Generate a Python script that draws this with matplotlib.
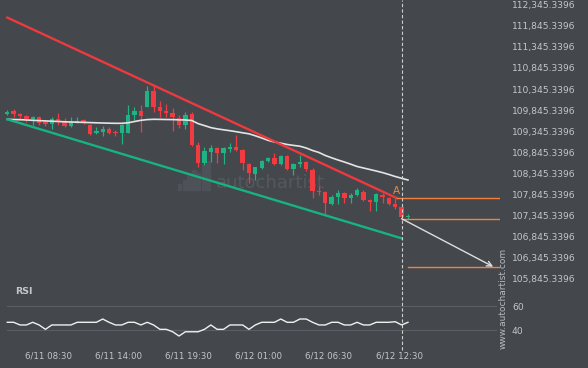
import matplotlib
matplotlib.use("Agg")
import matplotlib.pyplot as plt
from matplotlib.patches import Rectangle
import numpy as np

#---------------------------------------#
# CHART DATA (30 min candles, 6/11 05:00 -> 6/12 13:00)
#---------------------------------------#
OPEN = [109746, 109824, 109753, 109706, 109634, 109682, 109556, 109509, 109634, 109594,
        109475, 109556, 109611, 109492, 109302, 109326, 109397, 109333, 109309, 109309,
        109729, 109831, 109926, 110298, 109926, 109831, 109784, 109651, 109492, 109746,
        109018, 108598, 108859, 108939, 108821, 108916, 108977, 108899, 108567, 108330,
        108479, 108645, 108702, 108567, 108757, 108441, 108567, 108622, 108425, 107926,
        107910, 107618, 107791, 107886, 107768, 107832, 107910, 107713, 107673, 107832,
        107768, 107618, 107540, 107303]
HIGH = [109848, 109879, 109777, 109729, 109706, 109706, 109611, 109689, 109777, 109658,
        109689, 109689, 109634, 109516, 109445, 109468, 109445, 109373, 109516, 109966,
        109912, 109966, 110417, 110441, 110073, 109983, 109888, 109729, 109807, 109800,
        109089, 108977, 109018, 108963, 108970, 109058, 109255, 108923, 108584, 108503,
        108662, 108726, 108828, 108780, 108780, 108591, 108780, 108645, 108465, 108045,
        107926, 107832, 107950, 107903, 107872, 107991, 107950, 107730, 107886, 107872,
        107791, 107753, 107554, 107381]
LOW = [109729, 109689, 109634, 109570, 109492, 109492, 109468, 109390, 109492, 109445,
       109452, 109532, 109516, 109248, 109271, 109231, 109279, 109231, 109041, 109295,
       109611, 109333, 109912, 109800, 109689, 109689, 109350, 109421, 109397, 108994,
       108503, 108543, 108622, 108584, 108567, 108859, 108887, 108425, 108109, 108187,
       108448, 108622, 108543, 108543, 108425, 108306, 108489, 108401, 107753, 107832,
       107357, 107594, 107618, 107635, 107649, 107808, 107697, 107452, 107452, 107649,
       107594, 107492, 107279, 107262]
CLOSE = [109807, 109760, 109706, 109634, 109682, 109532, 109516, 109627, 109594, 109475,
         109570, 109594, 109532, 109279, 109350, 109397, 109309, 109295, 109492, 109729,
         109831, 109706, 110298, 109926, 109831, 109770, 109675, 109492, 109736, 109018,
         108591, 108875, 108946, 108821, 108939, 108977, 108899, 108584, 108346, 108489,
         108645, 108702, 108567, 108757, 108441, 108567, 108622, 108437, 107915, 107896,
         107649, 107791, 107886, 107753, 107832, 107950, 107713, 107673, 107855, 107791,
         107618, 107540, 107317, 107334]
# moving average drawn over the candles
MA = [109627, 109622, 109618, 109611, 109603, 109596, 109589, 109582, 109575, 109568,
      109563, 109558, 109554, 109549, 109544, 109539, 109535, 109532, 109532, 109544,
      109575, 109603, 109620, 109627, 109625, 109622, 109620, 109615, 109611, 109599,
      109525, 109478, 109430, 109400, 109378, 109357, 109333, 109307, 109283, 109236,
      109184, 109129, 109089, 109060, 109030, 109008, 108989, 108946, 108887, 108840,
      108769, 108714, 108662, 108614, 108562, 108508, 108472, 108437, 108401, 108363,
      108318, 108270, 108228, 108187]
RSI = [46.6, 46.6, 44.4, 44.4, 46.6, 44.4, 40.8, 44.4, 44.4, 44.4,
       44.4, 46.6, 46.6, 46.6, 46.6, 49.3, 46.6, 44.4, 44.4, 46.6,
       46.6, 44.4, 46.6, 44.4, 40.8, 40.8, 38.8, 35.3, 38.8, 38.8,
       38.8, 40.8, 44.4, 40.8, 40.8, 44.4, 44.4, 44.4, 40.8, 44.4,
       46.6, 46.6, 46.6, 49.3, 46.6, 46.6, 49.3, 49.3, 46.6, 44.4,
       44.4, 46.6, 46.6, 44.4, 44.4, 46.6, 44.4, 44.4, 46.6, 46.6,
       46.6, 47.1, 44.4, 46.6]

# channel lines (bar index, price)
RESIST_BARS = [0, 61.2]
RESIST_PRICES = [112040, 107760]
SUPPORT_BARS = [0, 62]
SUPPORT_PRICES = [109627, 106804]
# breakout level "A", current level and the forecast target
LEVEL_A = 107753
LEVEL_NOW = 107262
LEVEL_TARGET = 106117
ARROW_BARS = [62, 76.4]
ARROW_PRICES = [107270, 106131]
SIGNAL_BAR = 62

TIME_TICKS = [6.5, 17.5, 28.5, 39.5, 50.5, 61.6]
TIME_LABELS = ["6/11 08:30", "6/11 14:00", "6/11 19:30", "6/12 01:00", "6/12 06:30", "6/12 12:30"]
PRICE_TICKS = [105845.3396 + 500 * k for k in range(14)]
RSI_TICKS = [40, 60]
#---------------------------------------#

#---------------------------------------#
# STYLE
#---------------------------------------#
BG = "#44474c"
UP = "#1fb383"
DOWN = "#f23b40"
TXT = "#c3c6ca"
ORANGE = "#f5803c"
#---------------------------------------#


"""
draw the candles, the channel and the forecast on the price axes
"""
def draw_price(ax):
    x = np.arange(len(OPEN))
    o = np.array(OPEN)
    c = np.array(CLOSE)
    cols = [UP if cc >= oo else DOWN for oo, cc in zip(o, c)]
    ax.vlines(x, LOW, HIGH, colors=cols, lw=0.9, zorder=3)
    ax.bar(x, np.maximum(np.abs(c - o), 14), bottom=np.minimum(o, c), width=0.68,
           color=cols, zorder=4)

    ax.plot(x, MA, color="#e4e4e4", lw=1.2, zorder=5)
    ax.plot(RESIST_BARS, RESIST_PRICES, color="#ec3a3f", lw=1.7, zorder=6)
    ax.plot(SUPPORT_BARS, SUPPORT_PRICES, color="#17b381", lw=1.7, zorder=6)

    right = ax.get_xlim()[1]
    ax.plot([RESIST_BARS[1], right], [LEVEL_A, LEVEL_A], color=ORANGE, lw=1, zorder=6)
    ax.plot([SIGNAL_BAR, right], [LEVEL_NOW, LEVEL_NOW], color=ORANGE, lw=1, zorder=6)
    ax.plot([SIGNAL_BAR + 1, right], [LEVEL_TARGET, LEVEL_TARGET], color=ORANGE, lw=1, zorder=6)
    ax.text(RESIST_BARS[1], LEVEL_A + 60, "A", color="#e88a4a", fontsize=7.5,
            ha="center", va="bottom", zorder=7)
    ax.annotate("", xy=(ARROW_BARS[1], ARROW_PRICES[1]), xytext=(ARROW_BARS[0], ARROW_PRICES[0]),
                arrowprops=dict(arrowstyle="->", color="#dedede", lw=1, shrinkA=0, shrinkB=0,
                                mutation_scale=9), zorder=7)

    # faint watermark
    ax.text(0.54, 0.37, "autochartist", transform=ax.transAxes, fontsize=13,
            color="#55585e", ha="center", va="center", zorder=1)
    for k, h in enumerate([0.02, 0.035, 0.05, 0.07, 0.06, 0.085, 0.1]):
        ax.add_patch(Rectangle((0.356 + k * 0.0095, 0.345), 0.0068, h, transform=ax.transAxes,
                               color="#4e5157", zorder=1))


"""
draw the rsi line under the price panel
"""
def draw_rsi(ax):
    x = np.arange(len(RSI))
    for lvl in RSI_TICKS:
        ax.axhline(lvl, xmin=0.014, xmax=0.992, color="#5b5f65", lw=0.8, zorder=1)
    ax.plot(x, RSI, color="#f0f0f0", lw=1, zorder=3)


def main() -> None:
    fig = plt.figure(figsize=(5.88, 3.68), dpi=100, facecolor=BG)
    ax = fig.add_axes([0, 1 - 290 / 368, 500 / 588, 290 / 368], facecolor=BG)
    ax_rsi = fig.add_axes([0, 1 - 345 / 368, 500 / 588, 55 / 368], facecolor=BG, sharex=ax)

    ax.set_xlim(-1.148, 77.47)
    ax.set_ylim(105578, 112457)
    ax_rsi.set_ylim(27.9, 73.2)

    draw_price(ax)
    draw_rsi(ax_rsi)

    for a in (ax, ax_rsi):
        for s in a.spines.values():
            s.set_visible(False)
        a.yaxis.tick_right()
        a.tick_params(axis="y", length=0, pad=8.6, labelsize=6.6, labelcolor=TXT)
        a.axvline(SIGNAL_BAR, color="#cfcfcf", lw=0.8, dashes=(3, 2), zorder=8)
    ax_rsi.lines[-1].set_ydata([-5 / 55, 1])
    ax_rsi.lines[-1].set_clip_on(False)

    ax.set_yticks(PRICE_TICKS)
    ax.set_yticklabels([f"{p:,.4f}" for p in PRICE_TICKS])
    ax.tick_params(axis="x", bottom=False, labelbottom=False)
    ax_rsi.set_yticks(RSI_TICKS)
    ax_rsi.set_xticks(TIME_TICKS)
    ax_rsi.set_xticklabels(TIME_LABELS)
    ax_rsi.tick_params(axis="x", length=0, pad=5, labelsize=6.2, labelcolor=TXT)

    fig.text(15 / 588, 1 - 291 / 368, "RSI", color=TXT, fontsize=6.8, fontweight="bold",
             va="center", ha="left")
    fig.text(503 / 588, 1 - 298 / 368, "www.autochartist.com", color="#b7babe", fontsize=6.5,
             rotation=90, ha="center", va="center")

    fig.savefig("out.png", dpi=100, facecolor=BG)


#---------------------------------------#
main()
#---------------------------------------#
